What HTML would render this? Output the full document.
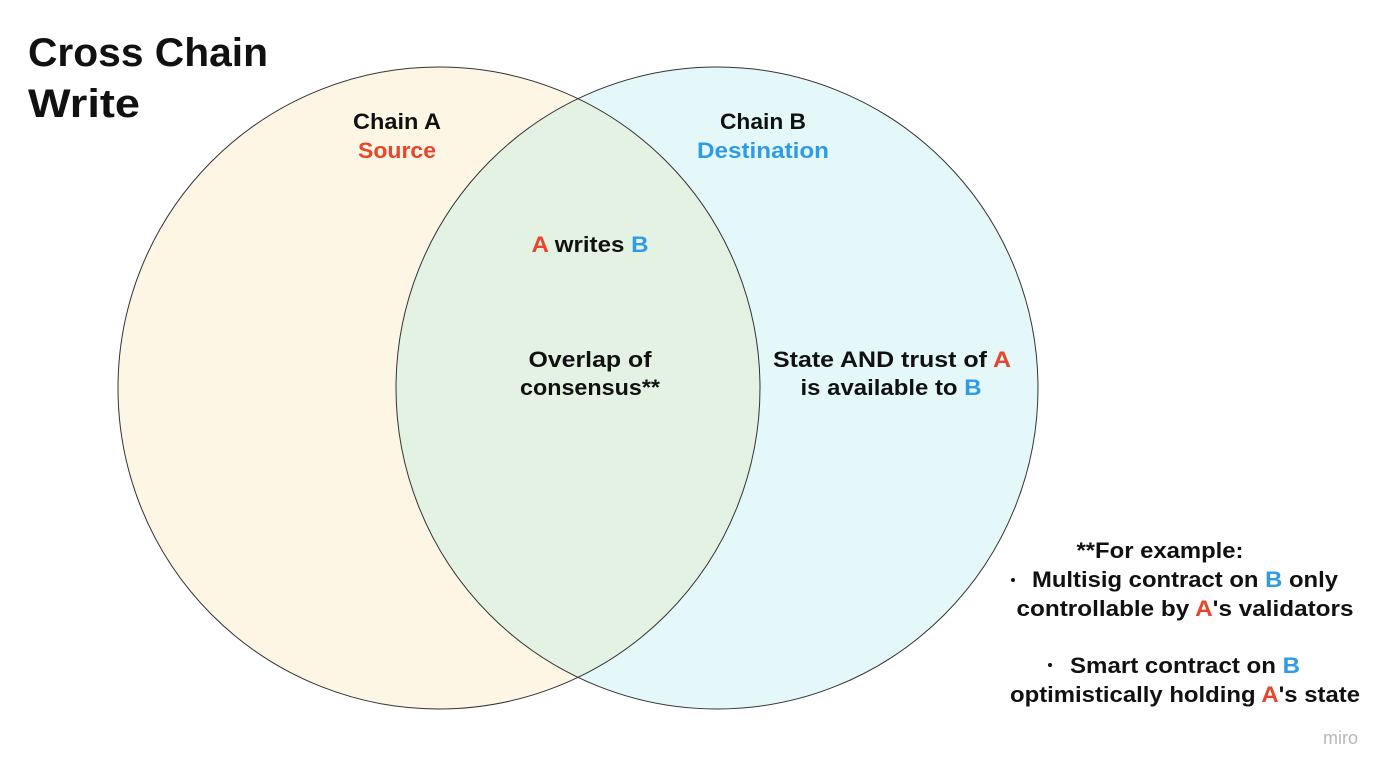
<!DOCTYPE html>
<html><head><meta charset="utf-8"><style>
html,body{margin:0;padding:0;background:#fff;}
svg{display:block;}
text{font-family:"Liberation Sans",sans-serif;font-weight:bold;fill:#111;}
.r{fill:#e8452c;} .b{fill:#2f9be6;}
</style></head><body>
<svg width="1400" height="776" viewBox="0 0 1400 776">
<rect width="1400" height="776" fill="#fff"/>
<circle cx="439" cy="388" r="321" fill="#fdf6e5"/>
<circle cx="717" cy="388" r="321" fill="#e4f8fa"/>
<clipPath id="c"><circle cx="439" cy="388" r="321"/></clipPath>
<circle cx="717" cy="388" r="321" fill="#e4f2e3" clip-path="url(#c)"/>
<circle cx="439" cy="388" r="321" fill="none" stroke="#333" stroke-width="1"/>
<circle cx="717" cy="388" r="321" fill="none" stroke="#333" stroke-width="1"/>
<text x="28" y="66" font-size="40" textLength="240" lengthAdjust="spacingAndGlyphs">Cross Chain</text>
<text x="28" y="117" font-size="40" textLength="112" lengthAdjust="spacingAndGlyphs">Write</text>
<g font-size="22" text-anchor="middle">
<text x="397" y="129" textLength="88" lengthAdjust="spacingAndGlyphs">Chain A</text>
<text x="397" y="158" class="r" textLength="78" lengthAdjust="spacingAndGlyphs">Source</text>
<text x="763" y="129" textLength="86" lengthAdjust="spacingAndGlyphs">Chain B</text>
<text x="763" y="158" class="b" textLength="132" lengthAdjust="spacingAndGlyphs">Destination</text>
<text x="590" y="252" textLength="117" lengthAdjust="spacingAndGlyphs"><tspan class="r">A</tspan> writes <tspan class="b">B</tspan></text>
<text x="590" y="367" textLength="123" lengthAdjust="spacingAndGlyphs">Overlap of</text>
<text x="590" y="395" textLength="140" lengthAdjust="spacingAndGlyphs">consensus**</text>
<text x="892" y="367" textLength="238" lengthAdjust="spacingAndGlyphs">State AND trust of <tspan class="r">A</tspan></text>
<text x="891" y="395" textLength="181" lengthAdjust="spacingAndGlyphs">is available to <tspan class="b">B</tspan></text>
<text x="1160" y="558" textLength="167" lengthAdjust="spacingAndGlyphs">**For example:</text>
<text x="1185" y="587" textLength="306" lengthAdjust="spacingAndGlyphs">Multisig contract on <tspan class="b">B</tspan> only</text>
<text x="1185" y="616" textLength="337" lengthAdjust="spacingAndGlyphs">controllable by <tspan class="r">A</tspan>'s validators</text>
<text x="1185" y="673" textLength="230" lengthAdjust="spacingAndGlyphs">Smart contract on <tspan class="b">B</tspan></text>
<text x="1185" y="702" textLength="350" lengthAdjust="spacingAndGlyphs">optimistically holding <tspan class="r">A</tspan>'s state</text>
</g>
<circle cx="1013" cy="580" r="2" fill="#111"/>
<circle cx="1050" cy="665" r="2" fill="#111"/>
<text x="1323" y="744" font-size="18" style="font-weight:normal;fill:#b5b8bd">miro</text>
</svg>
</body></html>
